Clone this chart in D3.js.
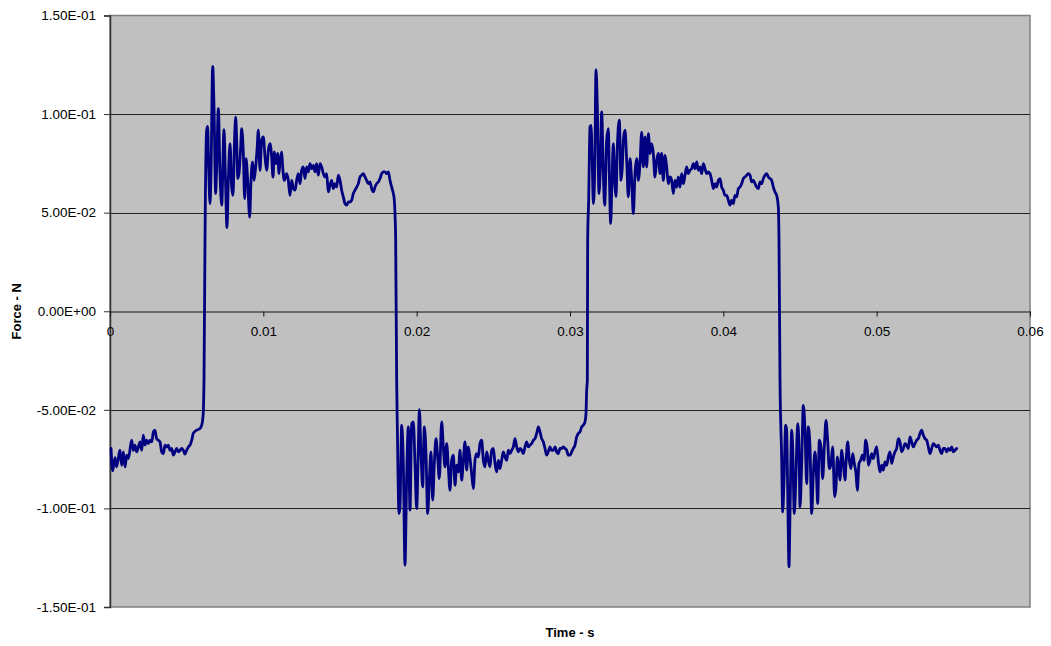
<!DOCTYPE html>
<html>
<head>
<meta charset="utf-8">
<script src="https://cdn.jsdelivr.net/npm/d3@7/dist/d3.min.js"></script>
<style>
  html, body { margin: 0; padding: 0; background: #ffffff; }
  svg { display: block; }
  text { font-family: "Liberation Sans", Arial, sans-serif; fill: #000; }
</style>
</head>
<body>
<svg id="chart" width="1051" height="646"></svg>
<script>
// ---------- data (time in s, force in N) ----------
const xTicks = [0, 0.01, 0.02, 0.03, 0.04, 0.05, 0.06];
const xTickLabels = ["0", "0.01", "0.02", "0.03", "0.04", "0.05", "0.06"];
const yTicks = [-0.15, -0.10, -0.05, 0, 0.05, 0.10, 0.15];
const yTickLabels = ["-1.50E-01", "-1.00E-01", "-5.00E-02", "0.00E+00", "5.00E-02", "1.00E-01", "1.50E-01"];

const lowStart = [[0.00007,-0.0696],[0.00017,-0.0810],[0.00033,-0.0742],[0.00043,-0.0789],[0.00054,-0.0747],[0.00065,-0.0705],[0.00076,-0.0781],[0.00087,-0.0713],[0.00098,-0.0789],[0.00109,-0.0730],[0.00120,-0.0747],[0.00141,-0.0654],[0.00152,-0.0705],[0.00163,-0.0679],[0.00174,-0.0713],[0.00196,-0.0663],[0.00207,-0.0705],[0.00217,-0.0629],[0.00228,-0.0679],[0.00239,-0.0654],[0.00250,-0.0671],[0.00261,-0.0654],[0.00272,-0.0663],[0.00283,-0.0612],[0.00293,-0.0603],[0.00304,-0.0646],[0.00326,-0.0663],[0.00337,-0.0713],[0.00348,-0.0722],[0.00359,-0.0679],[0.00370,-0.0688],[0.00380,-0.0679],[0.00391,-0.0705],[0.00402,-0.0696],[0.00413,-0.0730],[0.00424,-0.0713],[0.00435,-0.0696],[0.00446,-0.0713],[0.00457,-0.0705],[0.00467,-0.0696],[0.00478,-0.0705],[0.00489,-0.0725],[0.00500,-0.0705],[0.00511,-0.0688],[0.00522,-0.0679],[0.00533,-0.0654],[0.00543,-0.0620],[0.00565,-0.0603],[0.00587,-0.0595],[0.00598,-0.0578],[0.00604,-0.0553],[0.00609,-0.0502],[0.00613,-0.0350]];

const highFirst = [[0.006196,0.0360],[0.006217,0.0546],[0.006304,0.0918],[0.006370,0.0938],[0.006435,0.0732],[0.006522,0.0546],[0.006587,0.0698],[0.006696,0.1242],[0.006783,0.1036],[0.006891,0.0597],[0.006957,0.0732],[0.007065,0.1028],[0.007174,0.0698],[0.007283,0.0538],[0.007435,0.0921],[0.007522,0.0698],[0.007630,0.0424],[0.007717,0.0664],[0.007826,0.0850],[0.007935,0.0630],[0.008022,0.0588],[0.008109,0.0833],[0.008196,0.0985],[0.008261,0.0867],[0.008326,0.0673],[0.008413,0.0698],[0.008522,0.0833],[0.008587,0.0926],[0.008696,0.0800],[0.008783,0.0571],[0.008870,0.0774],[0.008978,0.0664],[0.009109,0.0478],[0.009196,0.0664],[0.009304,0.0757],[0.009391,0.0664],[0.009500,0.0732],[0.009587,0.0816],[0.009674,0.0918],[0.009783,0.0715],[0.009891,0.0867],[0.010000,0.0884],[0.010109,0.0783],[0.010217,0.0715],[0.010326,0.0816],[0.010435,0.0850],[0.010543,0.0783],[0.010630,0.0681],[0.010717,0.0808],[0.010826,0.0749],[0.010935,0.0800],[0.011022,0.0698],[0.011087,0.0757],[0.011196,0.0808],[0.011261,0.0732],[0.011370,0.0664],[0.011522,0.0698],[0.011630,0.0664],[0.011739,0.0588],[0.011848,0.0664],[0.011957,0.0622],[0.012065,0.0614],[0.012174,0.0664],[0.012283,0.0698],[0.012391,0.0647],[0.012500,0.0715],[0.012609,0.0732],[0.012717,0.0673],[0.012826,0.0732],[0.012935,0.0707],[0.013043,0.0749],[0.013152,0.0723],[0.013261,0.0740],[0.013370,0.0707],[0.013478,0.0749],[0.013587,0.0690],[0.013696,0.0749],[0.013804,0.0732],[0.013913,0.0698],[0.014022,0.0681],[0.014130,0.0698],[0.014239,0.0605],[0.014348,0.0639],[0.014457,0.0664],[0.014565,0.0622],[0.014674,0.0647],[0.014783,0.0630],[0.014891,0.0690],[0.015000,0.0664],[0.015109,0.0614],[0.015217,0.0580],[0.015326,0.0546],[0.015435,0.0538],[0.015543,0.0554],[0.015652,0.0554],[0.015761,0.0563],[0.015870,0.0597],[0.015978,0.0614],[0.016087,0.0630],[0.016196,0.0647],[0.016304,0.0681],[0.016413,0.0690],[0.016522,0.0698],[0.016630,0.0681],[0.016739,0.0664],[0.016848,0.0647],[0.016957,0.0656],[0.017065,0.0622],[0.017174,0.0605],[0.017283,0.0630],[0.017391,0.0647],[0.017500,0.0656],[0.017609,0.0673],[0.017717,0.0698],[0.017826,0.0707],[0.017935,0.0707],[0.018043,0.0698],[0.018152,0.0707],[0.018261,0.0664],[0.018370,0.0630],[0.018478,0.0597],[0.018543,0.0563],[0.018587,0.0495],[0.018630,0.0360]];

const lowSecond = [[0.018696,-0.0350],[0.018739,-0.0587],[0.018848,-0.1026],[0.018913,-0.0992],[0.019022,-0.0578],[0.019130,-0.0772],[0.019239,-0.1288],[0.019348,-0.0840],[0.019457,-0.0587],[0.019565,-0.1009],[0.019674,-0.0570],[0.019783,-0.0561],[0.019891,-0.0772],[0.020000,-0.1001],[0.020109,-0.0688],[0.020174,-0.0499],[0.020283,-0.0722],[0.020391,-0.0891],[0.020500,-0.0587],[0.020609,-0.0722],[0.020717,-0.1026],[0.020826,-0.0857],[0.020935,-0.0713],[0.021043,-0.0958],[0.021152,-0.0772],[0.021261,-0.0646],[0.021370,-0.0739],[0.021478,-0.0849],[0.021630,-0.0561],[0.021739,-0.0688],[0.021848,-0.0789],[0.021957,-0.0671],[0.022065,-0.0789],[0.022174,-0.0908],[0.022283,-0.0756],[0.022391,-0.0730],[0.022500,-0.0882],[0.022609,-0.0781],[0.022717,-0.0815],[0.022826,-0.0705],[0.022935,-0.0857],[0.023043,-0.0756],[0.023152,-0.0663],[0.023261,-0.0806],[0.023370,-0.0688],[0.023478,-0.0747],[0.023587,-0.0823],[0.023696,-0.0899],[0.023804,-0.0756],[0.023913,-0.0722],[0.024022,-0.0739],[0.024130,-0.0671],[0.024239,-0.0654],[0.024348,-0.0756],[0.024457,-0.0789],[0.024565,-0.0713],[0.024674,-0.0756],[0.024783,-0.0789],[0.024891,-0.0705],[0.025000,-0.0696],[0.025109,-0.0772],[0.025217,-0.0815],[0.025326,-0.0756],[0.025435,-0.0798],[0.025543,-0.0756],[0.025652,-0.0713],[0.025761,-0.0739],[0.025870,-0.0756],[0.025978,-0.0705],[0.026087,-0.0722],[0.026196,-0.0705],[0.026304,-0.0688],[0.026413,-0.0646],[0.026522,-0.0688],[0.026630,-0.0713],[0.026739,-0.0696],[0.026848,-0.0705],[0.026957,-0.0722],[0.027065,-0.0688],[0.027174,-0.0663],[0.027283,-0.0688],[0.027391,-0.0679],[0.027500,-0.0671],[0.027609,-0.0654],[0.027717,-0.0646],[0.027826,-0.0620],[0.027935,-0.0587],[0.028043,-0.0612],[0.028152,-0.0646],[0.028261,-0.0663],[0.028370,-0.0696],[0.028478,-0.0730],[0.028587,-0.0713],[0.028696,-0.0688],[0.028804,-0.0705],[0.028913,-0.0705],[0.029022,-0.0688],[0.029130,-0.0713],[0.029239,-0.0722],[0.029348,-0.0696],[0.029457,-0.0696],[0.029565,-0.0688],[0.029674,-0.0696],[0.029783,-0.0705],[0.029891,-0.0730],[0.030000,-0.0730],[0.030109,-0.0713],[0.030217,-0.0696],[0.030326,-0.0679],[0.030435,-0.0637],[0.030543,-0.0620],[0.030652,-0.0612],[0.030761,-0.0587],[0.030870,-0.0578],[0.030978,-0.0561],[0.031043,-0.0519],[0.031087,-0.0401],[0.031130,-0.0350]];

const highSecond = [[0.031152,0.0360],[0.031217,0.0563],[0.031304,0.0935],[0.031370,0.0943],[0.031457,0.0732],[0.031522,0.0546],[0.031609,0.0698],[0.031696,0.1225],[0.031783,0.1036],[0.031891,0.0597],[0.031978,0.0732],[0.032065,0.1011],[0.032174,0.0698],[0.032261,0.0538],[0.032391,0.0867],[0.032500,0.0926],[0.032565,0.0698],[0.032652,0.0445],[0.032739,0.0664],[0.032826,0.0850],[0.032935,0.0630],[0.033000,0.0580],[0.033087,0.0833],[0.033217,0.0969],[0.033326,0.0664],[0.033413,0.0732],[0.033478,0.0867],[0.033587,0.0918],[0.033696,0.0766],[0.033804,0.0580],[0.033913,0.0774],[0.034022,0.0664],[0.034130,0.0495],[0.034239,0.0698],[0.034348,0.0774],[0.034457,0.0664],[0.034565,0.0749],[0.034674,0.0909],[0.034783,0.0732],[0.034891,0.0884],[0.035000,0.0732],[0.035109,0.0901],[0.035217,0.0800],[0.035326,0.0850],[0.035435,0.0800],[0.035543,0.0681],[0.035652,0.0766],[0.035761,0.0800],[0.035870,0.0698],[0.035978,0.0800],[0.036087,0.0664],[0.036196,0.0791],[0.036304,0.0732],[0.036413,0.0647],[0.036522,0.0681],[0.036630,0.0664],[0.036739,0.0597],[0.036848,0.0664],[0.036957,0.0630],[0.037065,0.0681],[0.037174,0.0630],[0.037283,0.0698],[0.037391,0.0647],[0.037500,0.0690],[0.037609,0.0732],[0.037717,0.0698],[0.037826,0.0715],[0.037935,0.0723],[0.038043,0.0749],[0.038152,0.0723],[0.038261,0.0757],[0.038370,0.0715],[0.038478,0.0732],[0.038587,0.0698],[0.038696,0.0749],[0.038804,0.0723],[0.038913,0.0698],[0.039022,0.0707],[0.039130,0.0698],[0.039239,0.0664],[0.039348,0.0622],[0.039457,0.0647],[0.039565,0.0630],[0.039674,0.0664],[0.039783,0.0673],[0.039891,0.0630],[0.040000,0.0614],[0.040109,0.0588],[0.040217,0.0588],[0.040326,0.0563],[0.040435,0.0538],[0.040543,0.0563],[0.040652,0.0546],[0.040761,0.0588],[0.040870,0.0580],[0.040978,0.0622],[0.041087,0.0630],[0.041196,0.0647],[0.041304,0.0673],[0.041413,0.0681],[0.041522,0.0690],[0.041630,0.0698],[0.041739,0.0690],[0.041848,0.0656],[0.041957,0.0664],[0.042065,0.0647],[0.042174,0.0630],[0.042283,0.0622],[0.042391,0.0656],[0.042500,0.0647],[0.042609,0.0673],[0.042717,0.0690],[0.042826,0.0698],[0.042935,0.0681],[0.043043,0.0673],[0.043152,0.0664],[0.043261,0.0630],[0.043370,0.0605],[0.043478,0.0588],[0.043587,0.0529],[0.043630,0.0360]];

const lowThird = [[0.043696,-0.0350],[0.043804,-0.0739],[0.043870,-0.1018],[0.043957,-0.0857],[0.044065,-0.0578],[0.044130,-0.0603],[0.044196,-0.0908],[0.044283,-0.1296],[0.044348,-0.1026],[0.044457,-0.0603],[0.044522,-0.0688],[0.044630,-0.1026],[0.044739,-0.0823],[0.044848,-0.0570],[0.044935,-0.0688],[0.045000,-0.0992],[0.045109,-0.0772],[0.045217,-0.0477],[0.045326,-0.0603],[0.045435,-0.0874],[0.045543,-0.0587],[0.045652,-0.0688],[0.045761,-0.1026],[0.045870,-0.0823],[0.045978,-0.0713],[0.046087,-0.0857],[0.046152,-0.0975],[0.046261,-0.0654],[0.046370,-0.0688],[0.046478,-0.0849],[0.046587,-0.0688],[0.046696,-0.0553],[0.046804,-0.0654],[0.046913,-0.0798],[0.047022,-0.0772],[0.047130,-0.0688],[0.047261,-0.0941],[0.047348,-0.0891],[0.047435,-0.0739],[0.047522,-0.0789],[0.047609,-0.0857],[0.047717,-0.0705],[0.047826,-0.0772],[0.047935,-0.0857],[0.048000,-0.0772],[0.048109,-0.0663],[0.048217,-0.0756],[0.048326,-0.0798],[0.048435,-0.0722],[0.048543,-0.0772],[0.048652,-0.0823],[0.048739,-0.0908],[0.048848,-0.0772],[0.048957,-0.0756],[0.049065,-0.0730],[0.049174,-0.0756],[0.049283,-0.0654],[0.049391,-0.0696],[0.049457,-0.0781],[0.049565,-0.0756],[0.049674,-0.0722],[0.049783,-0.0747],[0.049891,-0.0713],[0.050000,-0.0688],[0.050109,-0.0764],[0.050217,-0.0815],[0.050326,-0.0781],[0.050435,-0.0806],[0.050543,-0.0764],[0.050652,-0.0781],[0.050761,-0.0739],[0.050870,-0.0713],[0.050978,-0.0772],[0.051087,-0.0739],[0.051196,-0.0713],[0.051304,-0.0696],[0.051413,-0.0646],[0.051522,-0.0663],[0.051630,-0.0713],[0.051739,-0.0696],[0.051848,-0.0671],[0.051957,-0.0679],[0.052065,-0.0696],[0.052174,-0.0637],[0.052283,-0.0663],[0.052391,-0.0688],[0.052500,-0.0671],[0.052609,-0.0654],[0.052717,-0.0646],[0.052826,-0.0620],[0.052935,-0.0603],[0.053043,-0.0629],[0.053152,-0.0646],[0.053261,-0.0654],[0.053370,-0.0688],[0.053478,-0.0722],[0.053587,-0.0696],[0.053696,-0.0671],[0.053804,-0.0679],[0.053913,-0.0688],[0.054022,-0.0679],[0.054130,-0.0705],[0.054239,-0.0722],[0.054348,-0.0696],[0.054457,-0.0696],[0.054565,-0.0713],[0.054674,-0.0696],[0.054783,-0.0705],[0.054891,-0.0688],[0.055000,-0.0713],[0.055109,-0.0705],[0.055217,-0.0696]];

const series = [].concat(lowStart, highFirst, lowSecond, highSecond, lowThird);

// ---------- layout ----------
const svg = d3.select("#chart");
const plot = { left: 110, top: 15.5, right: 1030, bottom: 607 };

const x = d3.scaleLinear().domain([0, 0.06]).range([plot.left, plot.right]);
const y = d3.scaleLinear().domain([-0.15, 0.15]).range([plot.bottom, plot.top]);

// plot area background
svg.append("rect")
  .attr("x", plot.left).attr("y", plot.top)
  .attr("width", plot.right - plot.left).attr("height", plot.bottom - plot.top)
  .attr("fill", "#c0c0c0")
  .attr("stroke", "#808080").attr("stroke-width", 1.5);

// horizontal gridlines
svg.append("g")
  .selectAll("line")
  .data(yTicks.filter(d => d !== 0 && Math.abs(d) < 0.149))
  .join("line")
  .attr("x1", plot.left).attr("x2", plot.right)
  .attr("y1", d => Math.round(y(d)) + 0.5).attr("y2", d => Math.round(y(d)) + 0.5)
  .attr("stroke", "#222").attr("stroke-width", 1.2);

// y axis
const yAxis = d3.axisLeft(y)
  .tickValues(yTicks)
  .tickFormat((d, i) => yTickLabels[i])
  .tickSize(6)
  .tickPadding(8);
const gy = svg.append("g").attr("transform", `translate(${plot.left},0)`).call(yAxis);
gy.select(".domain").attr("stroke", "#333").attr("stroke-width", 1.5);
gy.selectAll(".tick line").attr("stroke", "#333");
gy.selectAll(".tick text")
  .style("font-family", '"Liberation Sans", Arial, sans-serif')
  .style("font-size", "13.5px").attr("fill", "#000");

// x axis along y = 0
const xAxis = d3.axisBottom(x)
  .tickValues(xTicks)
  .tickFormat((d, i) => xTickLabels[i])
  .tickSize(5)
  .tickPadding(10)
  .tickSizeOuter(0);
const gx = svg.append("g").attr("transform", `translate(0,${Math.round(y(0)) + 0.5})`).call(xAxis);
gx.select(".domain").attr("stroke", "#111").attr("stroke-width", 1.2);
gx.selectAll(".tick line").attr("stroke", "#111");
gx.selectAll(".tick text")
  .style("font-family", '"Liberation Sans", Arial, sans-serif')
  .style("font-size", "13.5px").attr("fill", "#000");

// data line
const line = d3.line()
  .x(d => x(d[0]))
  .y(d => y(d[1]))
  .curve(d3.curveMonotoneX);

svg.append("path")
  .datum(series)
  .attr("d", line)
  .attr("fill", "none")
  .attr("stroke", "#000080")
  .attr("stroke-width", 2.8)
  .attr("stroke-linejoin", "round")
  .attr("stroke-linecap", "round");

// axis titles
svg.append("text")
  .attr("x", (plot.left + plot.right) / 2)
  .attr("y", 637)
  .attr("text-anchor", "middle")
  .style("font-size", "13px").style("font-weight", "bold")
  .text("Time - s");

svg.append("text")
  .attr("transform", `translate(21,${(plot.top + plot.bottom) / 2}) rotate(-90)`)
  .attr("text-anchor", "middle")
  .style("font-size", "13px").style("font-weight", "bold")
  .text("Force - N");
</script>
</body>
</html>
